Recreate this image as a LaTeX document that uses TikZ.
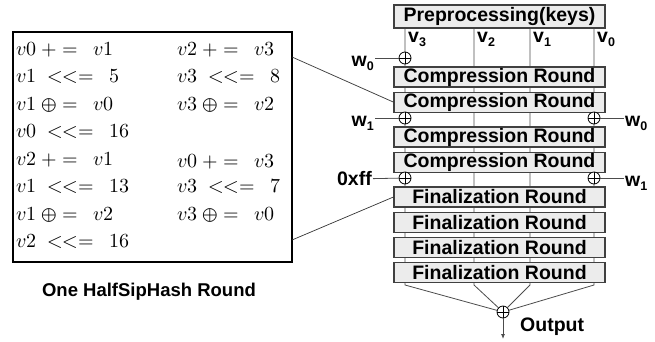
\documentclass[tikz,border=0pt]{standalone}
\usepackage{fontspec}
\usepackage{unicode-math}
\setmainfont{Liberation Sans}
\setmathfont{Latin Modern Math}
\usetikzlibrary{positioning,backgrounds,arrows.meta}

\newcommand{\vsub}[2]{#1\raisebox{-0.45ex}{\fontsize{12.5}{13}\selectfont #2}}

\begin{document}
\begin{tikzpicture}[x=1pt, y=-1pt,
        rnd/.style={draw=black!75, line width=1.1pt, fill=gray!15, minimum width=211pt,
                    minimum height=20pt, inner sep=0pt, font=\fontsize{19.5}{20}\selectfont\bfseries},
        xor/.style={circle, draw, line width=0.8pt, fill=white, minimum size=12pt, inner sep=0pt,
                    path picture={\draw[line width=0.8pt] (path picture bounding box.north) -- (path picture bounding box.south)
                                  (path picture bounding box.west) -- (path picture bounding box.east);}},
        wire/.style={draw=black!70, line width=0.8pt},
        lbl/.style={font=\fontsize{19.5}{20}\selectfont\bfseries, inner sep=1pt},
        op/.style={anchor=base west, inner sep=0pt, font=\fontsize{20}{22}\selectfont},
        ]
    \useasboundingbox (0,0) rectangle (655,341);

    % one round, written out
    \node[draw, line width=1.6pt, minimum width=279pt, minimum height=230pt, inner sep=0pt] (hsr) at (152.5,147) {};
    \node[op] (a1) at (16,55)    {$v0\;{+}\;{=}\enskip\; v1$};
    \node[op] (a2) at (16,82.5)  {$v1\;\;{<}{<}{=}\enskip\; 5$};
    \node[op] (a3) at (16,110)   {$v1\;{\oplus}\;{=}\enskip\; v0$};
    \node[op] (a4) at (16,137.5) {$v0\;\;{<}{<}{=}\enskip\; 16$};
    \node[op] (a5) at (16,165)   {$v2\;{+}\;{=}\enskip\; v1$};
    \node[op] (a6) at (16,192.5) {$v1\;\;{<}{<}{=}\enskip\; 13$};
    \node[op] (a7) at (16,220)   {$v1\;{\oplus}\;{=}\enskip\; v2$};
    \node[op] (a8) at (16,247.5) {$v2\;\;{<}{<}{=}\enskip\; 16$};
    \node[op] (b1) at (177,55)    {$v2\;{+}\;{=}\enskip\; v3$};
    \node[op] (b2) at (177,82.5)  {$v3\;\;{<}{<}{=}\enskip\; 8$};
    \node[op] (b3) at (177,110)   {$v3\;{\oplus}\;{=}\enskip\; v2$};
    \node[op] (b5) at (177,167)   {$v0\;{+}\;{=}\enskip\; v3$};
    \node[op] (b6) at (177,192.5) {$v3\;\;{<}{<}{=}\enskip\; 7$};
    \node[op] (b7) at (177,220)   {$v3\;{\oplus}\;{=}\enskip\; v0$};
    \node[font=\fontsize{18.5}{19}\selectfont\bfseries] (cap) at (149,292) {One HalfSipHash Round};

    % rounds
    \node[rnd, minimum height=23pt] (pre) at (499.5,16.5) {Preprocessing(keys)};
    \node[rnd] (cr1) at (499.5,77) {Compression Round};
    \node[rnd, below=4pt of cr1] (cr2) {Compression Round};
    \node[rnd] (cr3) at (499.5,137) {Compression Round};
    \node[rnd, below=4pt of cr3] (cr4) {Compression Round};
    \node[rnd] (fr1) at (499.5,197) {Finalization Round};
    \node[rnd, below=4pt of fr1] (fr2) {Finalization Round};
    \node[rnd, below=4pt of fr2] (fr3) {Finalization Round};
    \node[rnd, below=4pt of fr3] (fr4) {Finalization Round};

    % xors
    \node[xor] (xa) at (405,58) {};
    \node[xor] (xb) at (405,118) {};
    \node[xor] (xc) at (594,118) {};
    \node[xor] (xd) at (405,178) {};
    \node[xor] (xe) at (594,178) {};
    \node[xor] (xout) at (503,312) {};

    % state words
    \node[lbl, anchor=base west] (lv3) at (407,42) {\vsub{v}{3}};
    \node[lbl, anchor=base west] (lv2) at (476,42) {\vsub{v}{2}};
    \node[lbl, anchor=base west] (lv1) at (532,42) {\vsub{v}{1}};
    \node[lbl, anchor=base west] (lv0) at (596,42) {\vsub{v}{0}};

    % message words and constant
    \node[lbl, anchor=base east] (wa) at (375,66) {\vsub{w}{0}};
    \node[lbl, anchor=base east] (wb) at (375,126) {\vsub{w}{1}};
    \node[lbl, anchor=base west] (wc) at (624,126) {\vsub{w}{0}};
    \node[lbl, anchor=east] (wd) at (373,179) {0xff};
    \node[lbl, anchor=base west] (we) at (624,186) {\vsub{w}{1}};
    \node[lbl, anchor=west] (outl) at (519,327) {Output};

    \coordinate (c3) at (405,28);  \coordinate (d3) at (405,285);
    \coordinate (c2) at (474,28);  \coordinate (d2) at (474,285);
    \coordinate (c1) at (530,28);  \coordinate (d1) at (530,285);
    \coordinate (c0) at (594,28);  \coordinate (d0) at (594,285);
    \coordinate (oend) at (503,339);
    \coordinate (z1) at (292,57);
    \coordinate (z2) at (292,240);

    \begin{scope}[on background layer]
        \foreach \i in {0,...,3}
            \draw[wire] (c\i) -- (d\i) -- (xout);
    \end{scope}

    \draw[wire] (xa) -- (xa -| wa.east);
    \draw[wire] (xb) -- (xb -| wb.east);
    \draw[wire] (xc) -- (xc -| wc.west);
    \draw[wire] (xd) -- (wd);
    \draw[wire] (xe) -- (xe -| we.west);
    \draw[wire, -{Latex[length=5pt,width=4pt]}] (xout) -- (oend);

    \draw[black!80, line width=0.7pt] (z1) -- (cr2.west);
    \draw[black!80, line width=0.7pt] (z2) -- (fr1.west);
\end{tikzpicture}
\end{document}
